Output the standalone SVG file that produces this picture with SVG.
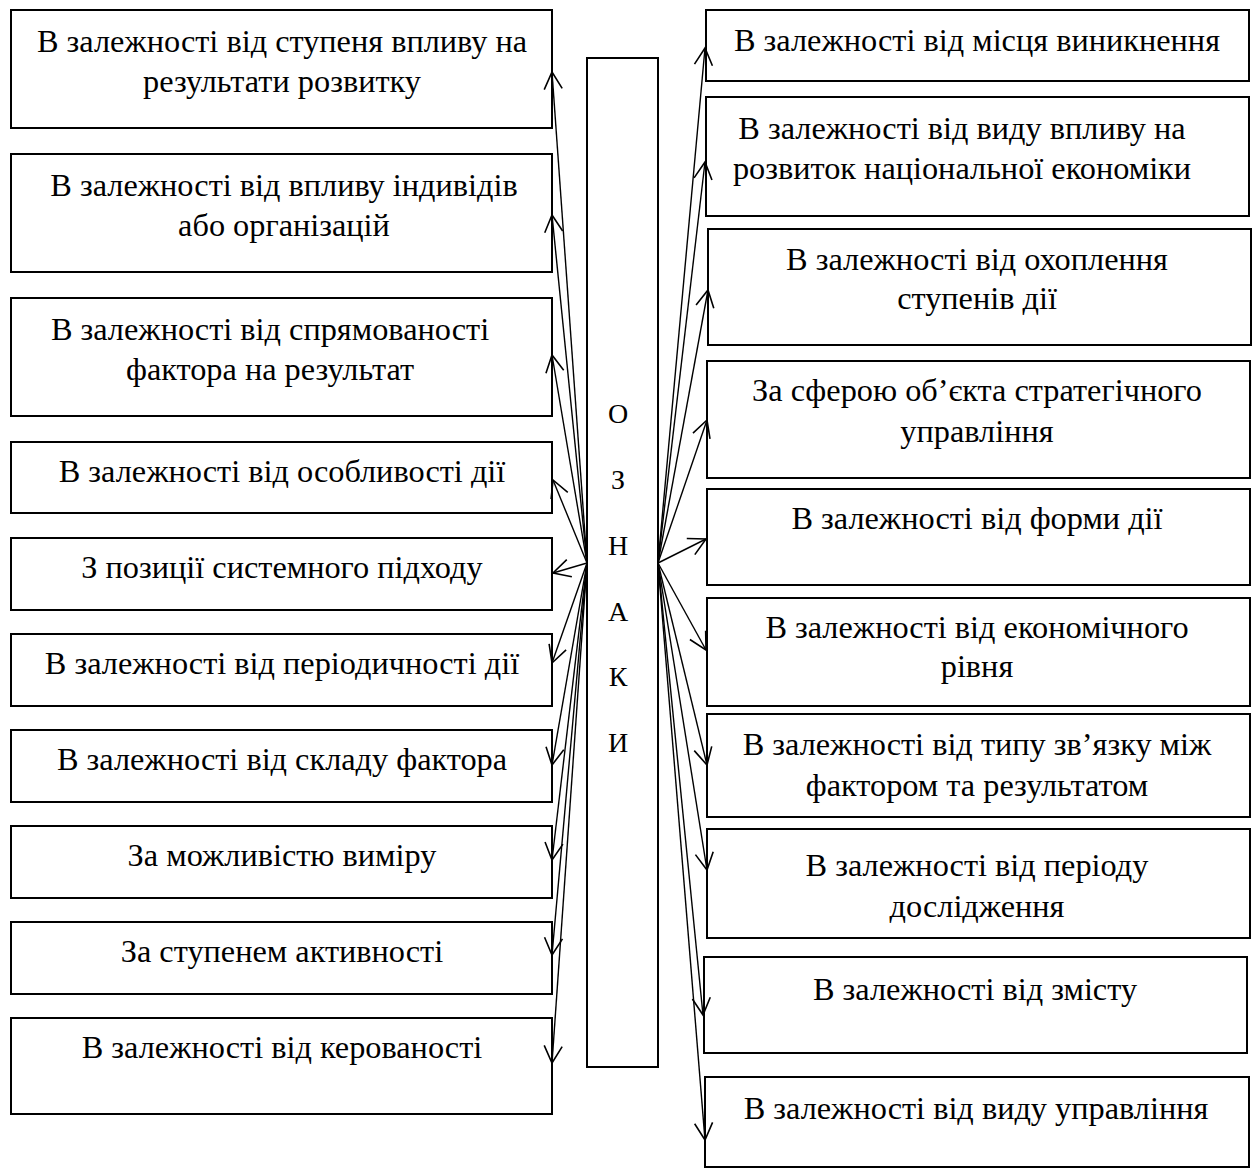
<svg xmlns="http://www.w3.org/2000/svg" width="1254" height="1171" viewBox="0 0 1254 1171">
  <style>
    .box { fill: #ffffff; stroke: #000000; stroke-width: 2; }
    .lbl { font-family: "Liberation Serif", "Times New Roman", serif; font-size: 32.3px; fill: #000000; text-anchor: middle; }
    .ltr { font-family: "Liberation Serif", "Times New Roman", serif; font-size: 28px; fill: #000000; text-anchor: middle; }
    .conn { fill: none; stroke: #000000; stroke-width: 1.4; marker-end: url(#vhead); }
  </style>
  <defs>
    <marker id="vhead" markerUnits="userSpaceOnUse" viewBox="-18 -11 20 22" refX="0" refY="0" markerWidth="20" markerHeight="22" orient="auto">
      <path d="M -17 -9 L 0 0 L -17 9" fill="none" stroke="#000000" stroke-width="1.6"/>
    </marker>
  </defs>
  <rect width="1254" height="1171" fill="#ffffff"/>

  <!-- central column -->
  <g id="signs">
    <rect class="box" x="587" y="58" width="71" height="1009"/>
    <text class="ltr" x="618" y="423">О</text>
    <text class="ltr" x="618" y="489">З</text>
    <text class="ltr" x="618" y="555">Н</text>
    <text class="ltr" x="618" y="621">А</text>
    <text class="ltr" x="618" y="686">К</text>
    <text class="ltr" x="618" y="752">И</text>
  </g>

  <!-- left column -->
  <g id="l1"><rect class="box" x="11" y="10" width="541" height="118"/>
    <text class="lbl" x="282" y="52">В залежності від ступеня впливу на</text>
    <text class="lbl" x="282" y="92">результати розвитку</text></g>
  <g id="l2"><rect class="box" x="11" y="154" width="541" height="118"/>
    <text class="lbl" x="284" y="196">В залежності від впливу індивідів</text>
    <text class="lbl" x="284" y="236">або організацій</text></g>
  <g id="l3"><rect class="box" x="11" y="298" width="541" height="118"/>
    <text class="lbl" x="270" y="340">В залежності від спрямованості</text>
    <text class="lbl" x="270" y="380">фактора на результат</text></g>
  <g id="l4"><rect class="box" x="11" y="442" width="541" height="71"/>
    <text class="lbl" x="282" y="482">В залежності від особливості дії</text></g>
  <g id="l5"><rect class="box" x="11" y="538" width="541" height="72"/>
    <text class="lbl" x="282" y="578">З позиції системного підходу</text></g>
  <g id="l6"><rect class="box" x="11" y="634" width="541" height="72"/>
    <text class="lbl" x="282" y="674">В залежності від періодичності дії</text></g>
  <g id="l7"><rect class="box" x="11" y="730" width="541" height="72"/>
    <text class="lbl" x="282" y="770">В залежності від складу фактора</text></g>
  <g id="l8"><rect class="box" x="11" y="826" width="541" height="72"/>
    <text class="lbl" x="282" y="866">За можливістю виміру</text></g>
  <g id="l9"><rect class="box" x="11" y="922" width="541" height="72"/>
    <text class="lbl" x="282" y="962">За ступенем активності</text></g>
  <g id="l10"><rect class="box" x="11" y="1018" width="541" height="96"/>
    <text class="lbl" x="282" y="1058">В залежності від керованості</text></g>

  <!-- right column -->
  <g id="r1"><rect class="box" x="706" y="10" width="543" height="71"/>
    <text class="lbl" x="977" y="51">В залежності від місця виникнення</text></g>
  <g id="r2"><rect class="box" x="706" y="97" width="543" height="119"/>
    <text class="lbl" x="962" y="139">В залежності від виду впливу на</text>
    <text class="lbl" x="962" y="179">розвиток національної економіки</text></g>
  <g id="r3"><rect class="box" x="708" y="229" width="543" height="116"/>
    <text class="lbl" x="977" y="270">В залежності від охоплення</text>
    <text class="lbl" x="977" y="309">ступенів дії</text></g>
  <g id="r4"><rect class="box" x="707" y="361" width="543" height="117"/>
    <text class="lbl" x="977" y="401">За сферою об’єкта стратегічного</text>
    <text class="lbl" x="977" y="442">управління</text></g>
  <g id="r5"><rect class="box" x="707" y="489" width="543" height="96"/>
    <text class="lbl" x="977" y="529">В залежності від форми дії</text></g>
  <g id="r6"><rect class="box" x="707" y="598" width="543" height="108"/>
    <text class="lbl" x="977" y="638">В залежності від економічного</text>
    <text class="lbl" x="977" y="677">рівня</text></g>
  <g id="r7"><rect class="box" x="707" y="714" width="543" height="103"/>
    <text class="lbl" x="977" y="755">В залежності від типу зв’язку між</text>
    <text class="lbl" x="977" y="796">фактором та результатом</text></g>
  <g id="r8"><rect class="box" x="707" y="829" width="543" height="109"/>
    <text class="lbl" x="977" y="876">В залежності від періоду</text>
    <text class="lbl" x="977" y="917">дослідження</text></g>
  <g id="r9"><rect class="box" x="704" y="957" width="543" height="96"/>
    <text class="lbl" x="975" y="1000">В залежності від змісту</text></g>
  <g id="r10"><rect class="box" x="705" y="1077" width="544" height="90"/>
    <text class="lbl" x="976" y="1119">В залежності від виду управління</text></g>

  <!-- connectors fanning out from the central column -->
  <g id="connectors">
    <line class="conn" x1="587" y1="563" x2="552" y2="72"/>
    <line class="conn" x1="587" y1="563" x2="552" y2="215"/>
    <line class="conn" x1="587" y1="563" x2="552" y2="355"/>
    <line class="conn" x1="587" y1="563" x2="553" y2="480"/>
    <line class="conn" x1="587" y1="563" x2="553" y2="573"/>
    <line class="conn" x1="587" y1="563" x2="552" y2="663"/>
    <line class="conn" x1="587" y1="563" x2="552" y2="765"/>
    <line class="conn" x1="587" y1="563" x2="552" y2="860"/>
    <line class="conn" x1="587" y1="563" x2="552" y2="955"/>
    <line class="conn" x1="587" y1="563" x2="552" y2="1063"/>

    <line class="conn" x1="658" y1="563" x2="705" y2="48"/>
    <line class="conn" x1="658" y1="563" x2="705" y2="162"/>
    <line class="conn" x1="658" y1="563" x2="708" y2="290"/>
    <line class="conn" x1="658" y1="563" x2="707" y2="420"/>
    <line class="conn" x1="658" y1="563" x2="706" y2="539"/>
    <line class="conn" x1="658" y1="563" x2="706" y2="650"/>
    <line class="conn" x1="658" y1="563" x2="707" y2="765"/>
    <line class="conn" x1="658" y1="563" x2="707" y2="870"/>
    <line class="conn" x1="658" y1="563" x2="703" y2="1015"/>
    <line class="conn" x1="658" y1="563" x2="705" y2="1140"/>
  </g>
</svg>
